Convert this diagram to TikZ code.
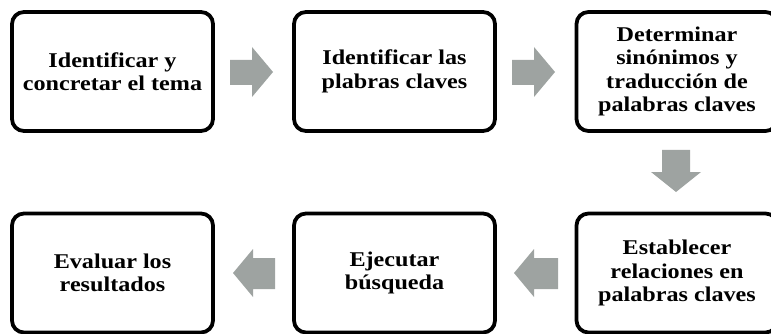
\documentclass[tikz,border=0pt]{standalone}
\usepackage{fontspec}
\setmainfont{Liberation Serif}[FakeStretch=1.15]
\usetikzlibrary{positioning}
\definecolor{arrowgray}{HTML}{9EA3A1}
\tikzset{
  stepbox/.style={draw=black, line width=3.8pt, rounded corners=12pt, fill=white,
    minimum width=201pt, minimum height=119pt, align=center, inner sep=0pt,
    font=\bfseries\fontsize{21}{23.5}\selectfont},
  blockarrow/.style={fill=arrowgray, draw=none}
}
\begin{document}
\begin{tikzpicture}[x=1pt,y=-1pt]
\useasboundingbox (0,0) rectangle (771,334);
\node[stepbox] (b1) at (112.5,71.5) {Identificar y\\concretar el tema};
\node[stepbox] (b2) at (394.5,71.5) {Identificar las\\plabras claves};
\node[stepbox] (b3) at (677,71.5) {Determinar\\sinónimos y\\traducción de\\palabras claves};
\node[stepbox] (b6) at (677,273) {Establecer\\relaciones en\\palabras claves};
\node[stepbox] (b5) at (394.5,273) {Ejecutar\\búsqueda};
\node[stepbox] (b4) at (112.5,273) {Evaluar los\\resultados};
% block arrows
\fill[blockarrow] (230,60) -- (252,60) -- (252,47) -- (273,72) -- (252,97) -- (252,85) -- (230,85) -- cycle;
\fill[blockarrow] (512,60) -- (534,60) -- (534,47) -- (555,72) -- (534,97) -- (534,85) -- (512,85) -- cycle;
\fill[blockarrow] (662,150) -- (662,172) -- (651,172) -- (676,192) -- (701,172) -- (690,172) -- (690,150) -- cycle;
\fill[blockarrow] (558,258) -- (534,258) -- (534,249) -- (514,273) -- (534,297) -- (534,289) -- (558,289) -- cycle;
\fill[blockarrow] (275,258) -- (253,258) -- (253,249) -- (233,273) -- (253,297) -- (253,289) -- (275,289) -- cycle;
\end{tikzpicture}
\end{document}
